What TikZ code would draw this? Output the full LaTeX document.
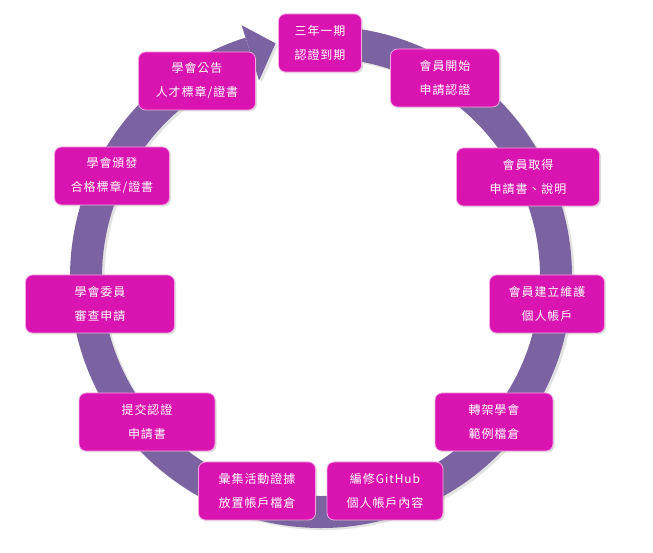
\documentclass[tikz,border=0pt]{standalone}
\usepackage{fontspec}
\newfontfamily\cjk[LetterSpace=8]{Noto Sans CJK TC}
\usetikzlibrary{calc,shadows}
\definecolor{ringpurple}{HTML}{7B62A0}
\definecolor{boxmagenta}{HTML}{DA14B0}
\definecolor{boxedge}{HTML}{F2A6E4}

\begin{document}
\begin{tikzpicture}[x=1pt, y=1pt,
    box/.style={draw=boxedge, line width=0.8pt, fill=boxmagenta, rounded corners=7pt,
      minimum height=58pt, text=white, align=center,
      font=\cjk\fontsize{12}{24}\selectfont,
      drop shadow={opacity=0.25, shadow xshift=1.5pt, shadow yshift=-1.5pt}},
    ring/.style={ringpurple, line width=32pt},
    ringshadow/.style={gray!22, line width=32pt}]
    \useasboundingbox (0,0) rectangle (653,553);
    \coordinate (c) at (321,276);

    % cycle arrow
    \draw[ringshadow] ([shift={(2.5,-2)}]c) ++(84:235) arc[start angle=84, end angle=-252.5, radius=235];
    \fill[gray!22] ($(c)+(2.5,-2)+(107.5:264)$) -- ($(c)+(2.5,-2)+(101:238)$) -- ($(c)+(2.5,-2)+(107.5:206)$) -- cycle;
    \draw[ring] (c) ++(84:235) arc[start angle=84, end angle=-252.5, radius=235];
    \fill[ringpurple] ($(c)+(107.5:264)$) -- ($(c)+(101:238)$) -- ($(c)+(107.5:206)$) -- cycle;

    \node[box, minimum width=83pt] (1) at (320,510) {三年一期\\認證到期};
    \node[box, minimum width=109pt] (2) at (445,475) {會員開始\\申請認證};
    \node[box, minimum width=143pt] (3) at (528,376) {會員取得\\申請書、說明};
    \node[box, minimum width=115pt] (4) at (547,249) {會員建立維護\\個人帳戶};
    \node[box, minimum width=118pt] (5) at (494,131) {轉架學會\\範例檔倉};
    \node[box, minimum width=116pt] (6) at (385,62) {編修GitHub\\個人帳戶內容};
    \node[box, minimum width=117pt] (7) at (257,62) {彙集活動證據\\放置帳戶檔倉};
    \node[box, minimum width=136pt] (8) at (147,131) {提交認證\\申請書};
    \node[box, minimum width=149pt] (9) at (100,249) {學會委員\\審查申請};
    \node[box, minimum width=115pt] (10) at (112,377) {學會頒發\\合格標章/證書};
    \node[box, minimum width=117pt] (11) at (197,472) {學會公告\\人才標章/證書};
\end{tikzpicture}
\end{document}
